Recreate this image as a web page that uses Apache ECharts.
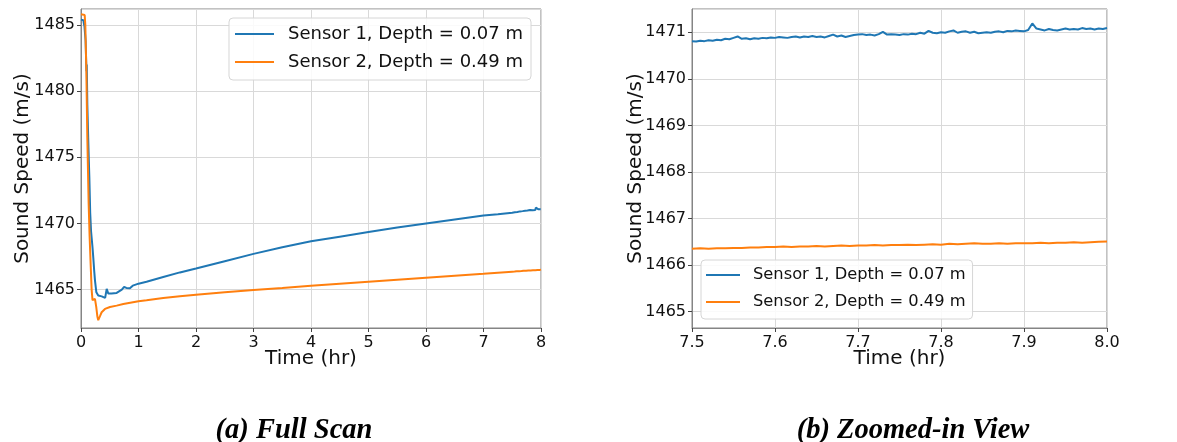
<!DOCTYPE html>
<html><head><meta charset="utf-8">
<script src="https://cdn.jsdelivr.net/npm/echarts@6/dist/echarts.min.js"></script>
<style>html,body{margin:0;padding:0;background:#fff}#c{width:1177px;height:442px}</style>
</head><body><div id="c"></div>
<script>
// ---------- DATA ----------
const seriesNames = ['Sensor 1, Depth = 0.07 m', 'Sensor 2, Depth = 0.49 m'];
const panelTitles = ['(a) Full Scan', '(b) Zoomed-in View'];
const xTitle = 'Time (hr)';
const yTitle = 'Sound Speed (m/s)';

// Sensor 1, 0 - 7.25 hr (coarse read of full scan)
const s1Time = [0, 0.04, 0.06, 0.08, 0.095, 0.10, 0.11, 0.125, 0.14, 0.145,
  0.16, 0.175, 0.186, 0.20, 0.214, 0.23, 0.243, 0.267, 0.30, 0.33,
  0.36, 0.39, 0.42, 0.447, 0.475, 0.50, 0.53, 0.56, 0.62, 0.65,
  0.71, 0.75, 0.79, 0.85, 0.90, 1.0, 1.14, 1.43, 1.72, 2.0,
  2.5, 3.0, 3.5, 4.0, 4.5, 5.0, 5.5, 6.0, 6.5, 7.0, 7.25];
const s1Speed = [1485.4, 1485.35, 1484.9, 1483.8, 1481.5, 1482.0, 1479.0, 1476.5, 1474.2, 1473.5,
  1470.8, 1469.4, 1469.3, 1468.2, 1467.4, 1466.4, 1465.7, 1464.8, 1464.55, 1464.7,
  1464.49, 1464.62, 1464.37, 1465.05, 1464.7, 1464.57, 1464.7, 1464.68, 1464.75, 1464.87,
  1465.0, 1465.2, 1465.13, 1465.1, 1465.3, 1465.45, 1465.6, 1465.95, 1466.3, 1466.6,
  1467.15, 1467.7, 1468.2, 1468.65, 1469.0, 1469.35, 1469.7, 1470.0, 1470.3, 1470.6, 1470.7];

// Sensor 2, 0 - 7.25 hr
const s2Time = [0, 0.064, 0.075, 0.093, 0.11, 0.133, 0.15, 0.168, 0.185, 0.20,
  0.214, 0.23, 0.243, 0.255, 0.265, 0.284, 0.30, 0.33, 0.359, 0.417,
  0.504, 0.62, 0.736, 1.0, 1.14, 1.43, 1.72, 2.0, 2.5, 3.0,
  3.5, 4.0, 4.5, 5.0, 5.5, 6.0, 6.5, 7.0, 7.25];
const s2Speed = [1485.8, 1485.75, 1485.0, 1481.5, 1476.5, 1471.5, 1469.0, 1466.9, 1465.0, 1464.2,
  1464.12, 1464.15, 1464.3, 1464.15, 1463.7, 1462.99, 1462.69, 1462.99, 1463.29, 1463.54,
  1463.69, 1463.79, 1463.91, 1464.12, 1464.2, 1464.37, 1464.5, 1464.62, 1464.8, 1464.97,
  1465.13, 1465.3, 1465.45, 1465.6, 1465.75, 1465.9, 1466.05, 1466.2, 1466.28];

// Sensor 1, 7.5 - 8.0 hr (fine read of zoomed view)
const s1ZoomTime = [7.500, 7.505, 7.510, 7.515, 7.520, 7.525, 7.530, 7.535, 7.540, 7.545,
  7.550, 7.555, 7.560, 7.565, 7.570, 7.575, 7.580, 7.585, 7.590, 7.595,
  7.600, 7.605, 7.610, 7.615, 7.620, 7.625, 7.630, 7.635, 7.640, 7.645,
  7.650, 7.655, 7.660, 7.665, 7.670, 7.675, 7.680, 7.685, 7.690, 7.695,
  7.700, 7.705, 7.710, 7.715, 7.720, 7.725, 7.730, 7.735, 7.740, 7.745,
  7.750, 7.755, 7.760, 7.765, 7.770, 7.775, 7.780, 7.785, 7.790, 7.795,
  7.800, 7.805, 7.810, 7.815, 7.820, 7.825, 7.830, 7.835, 7.840, 7.845,
  7.850, 7.855, 7.860, 7.865, 7.870, 7.875, 7.880, 7.885, 7.890, 7.895,
  7.900, 7.905, 7.910, 7.915, 7.920, 7.925, 7.930, 7.935, 7.940, 7.945,
  7.950, 7.955, 7.960, 7.965, 7.970, 7.975, 7.980, 7.985, 7.990, 7.995, 8.000];
const s1ZoomSpeed = [1470.81, 1470.80, 1470.82, 1470.81, 1470.83, 1470.82, 1470.84, 1470.83, 1470.86, 1470.85,
  1470.88, 1470.91, 1470.86, 1470.87, 1470.85, 1470.87, 1470.86, 1470.88, 1470.87, 1470.89,
  1470.88, 1470.90, 1470.89, 1470.88, 1470.90, 1470.91, 1470.89, 1470.91, 1470.90, 1470.92,
  1470.90, 1470.91, 1470.89, 1470.92, 1470.95, 1470.91, 1470.93, 1470.90, 1470.92, 1470.94,
  1470.95, 1470.96, 1470.94, 1470.95, 1470.93, 1470.96, 1471.01, 1470.95, 1470.96, 1470.95,
  1470.94, 1470.96, 1470.95, 1470.97, 1470.96, 1470.99, 1470.97, 1471.03, 1470.99, 1470.98,
  1471.00, 1470.99, 1471.02, 1471.04, 1470.99, 1471.01, 1471.02, 1470.99, 1471.01, 1470.98,
  1470.99, 1471.00, 1470.99, 1471.01, 1471.02, 1471.00, 1471.03, 1471.02, 1471.04, 1471.03,
  1471.02, 1471.05, 1471.19, 1471.08, 1471.06, 1471.04, 1471.07, 1471.05, 1471.04, 1471.06,
  1471.08, 1471.06, 1471.07, 1471.06, 1471.09, 1471.07, 1471.08, 1471.06, 1471.08, 1471.07, 1471.09];

// Sensor 2, 7.5 - 8.0 hr
const s2ZoomTime = [7.50, 7.51, 7.52, 7.53, 7.54, 7.55, 7.56, 7.57, 7.58, 7.59,
  7.60, 7.61, 7.62, 7.63, 7.64, 7.65, 7.66, 7.67, 7.68, 7.69,
  7.70, 7.71, 7.72, 7.73, 7.74, 7.75, 7.76, 7.77, 7.78, 7.79,
  7.80, 7.81, 7.82, 7.83, 7.84, 7.85, 7.86, 7.87, 7.88, 7.89,
  7.90, 7.91, 7.92, 7.93, 7.94, 7.95, 7.96, 7.97, 7.98, 7.99, 8.00];
const s2ZoomSpeed = [1466.35, 1466.36, 1466.35, 1466.36, 1466.36, 1466.37, 1466.37, 1466.38, 1466.38, 1466.39,
  1466.39, 1466.40, 1466.39, 1466.40, 1466.40, 1466.41, 1466.40, 1466.41, 1466.42, 1466.41,
  1466.42, 1466.42, 1466.43, 1466.42, 1466.43, 1466.43, 1466.44, 1466.43, 1466.44, 1466.45,
  1466.44, 1466.46, 1466.45, 1466.46, 1466.47, 1466.46, 1466.46, 1466.47, 1466.46, 1466.47,
  1466.47, 1466.47, 1466.48, 1466.47, 1466.48, 1466.48, 1466.49, 1466.48, 1466.49, 1466.50, 1466.51];

// ---------- CHART ----------
const zip = (t, v) => t.map((x, i) => [x, v[i]]);
const s1Zoom = zip(s1ZoomTime, s1ZoomSpeed);
const s2Zoom = zip(s2ZoomTime, s2ZoomSpeed);
const s1Full = zip(s1Time, s1Speed).concat(s1Zoom);
const s2Full = zip(s2Time, s2Speed).concat(s2Zoom);

const FONT = 'DejaVu Sans';
const BLUE = '#1f77b4', ORANGE = '#ff7f0e';
const axisCommon = {
  axisLine: { show: true, onZero: false, lineStyle: { color: '#858585', width: 1 } },
  axisTick: { show: true, inside: false, length: 4, lineStyle: { color: '#444', width: 1 } },
  splitLine: { show: true, lineStyle: { color: '#d9d9d9', width: 1 } },
  nameMoveOverlap: false,
  nameTextStyle: { fontFamily: FONT, fontSize: 20, color: '#111' }
};
function xAx(idx, min, max, extra, fmt) {
  return Object.assign({
    type: 'value', gridIndex: idx, min: min, max: max,
    name: xTitle, nameLocation: 'middle', nameGap: 21,
    axisLabel: { fontFamily: FONT, fontSize: 16, color: '#111', margin: 7, formatter: fmt }
  }, axisCommon, extra);
}
function yAx(idx, min, max, split, gap) {
  return Object.assign({
    type: 'value', gridIndex: idx, min: min, max: max, splitNumber: split, scale: true,
    name: yTitle, nameLocation: 'middle', nameGap: gap,
    axisLabel: { fontFamily: FONT, fontSize: 16, color: '#111', margin: 6,
      showMinLabel: false, showMaxLabel: false, formatter: v => v.toFixed(0) }
  }, axisCommon);
}
const legendBase = {
  orient: 'vertical', icon: 'rect', itemHeight: 2,
  backgroundColor: 'rgba(255,255,255,0.85)', borderColor: '#d6d6d6', borderWidth: 1, borderRadius: 4
};
const lineS = (name, data, color, xi, yi) => ({
  type: 'line', name: name, data: data, xAxisIndex: xi, yAxisIndex: yi,
  symbol: 'none', showSymbol: false, animation: false,
  lineStyle: { color: color, width: 2 }, itemStyle: { color: color }
});
const titleStyle = { fontFamily: 'Liberation Serif', fontStyle: 'italic', fontWeight: 'bold', fontSize: 28.5, color: '#000' };

const chart = echarts.init(document.getElementById('c'), null, { renderer: 'canvas' });
chart.setOption({
  animation: false,
  backgroundColor: '#fff',
  title: [
    { text: panelTitles[0], left: 289, top: 411, textAlign: 'center', textStyle: titleStyle },
    { text: panelTitles[1], left: 908, top: 411, textAlign: 'center', textStyle: titleStyle }
  ],
  grid: [
    { left: 81, top: 9, width: 460, height: 319, show: true, borderColor: '#858585', borderWidth: 1, backgroundColor: 'transparent' },
    { left: 692, top: 9, width: 415, height: 319, show: true, borderColor: '#858585', borderWidth: 1, backgroundColor: 'transparent' }
  ],
  xAxis: [
    xAx(0, 0, 8, { interval: 1 }, v => v.toFixed(0)),
    xAx(1, 7.5, 8.0, { splitNumber: 5 }, v => v.toFixed(1))
  ],
  yAxis: [
    yAx(0, 1462.1, 1486.2, 5, 48),
    yAx(1, 1464.65, 1471.5, 7, 46)
  ],
  legend: [
    Object.assign({ data: seriesNames, right: 646, top: 18, itemWidth: 39, itemGap: 10,
      padding: [7, 8, 9, 6],
      textStyle: { fontFamily: FONT, fontSize: 18, color: '#111', padding: [0, 0, 0, 9] } }, legendBase),
    Object.assign({ data: seriesNames, left: 701, top: 260, itemWidth: 34, itemGap: 11,
      padding: [7, 7, 9, 5],
      textStyle: { fontFamily: FONT, fontSize: 16.3, color: '#111', padding: [0, 0, 0, 8] } }, legendBase)
  ],
  series: [
    lineS(seriesNames[0], s1Full, BLUE, 0, 0),
    lineS(seriesNames[1], s2Full, ORANGE, 0, 0),
    lineS(seriesNames[0], s1Zoom, BLUE, 1, 1),
    lineS(seriesNames[1], s2Zoom, ORANGE, 1, 1)
  ]
});
</script></body></html>
